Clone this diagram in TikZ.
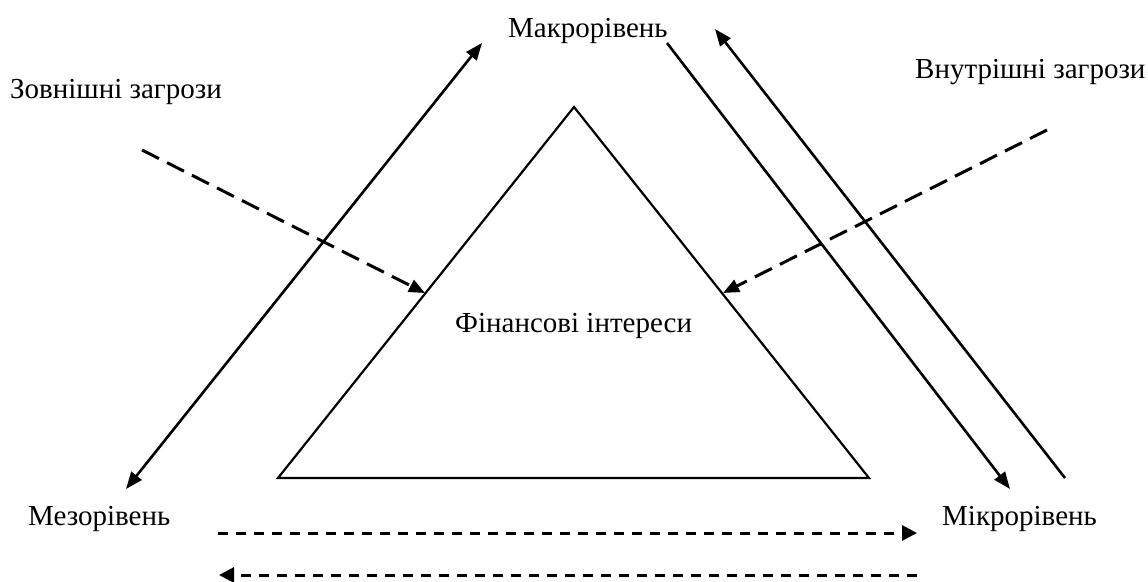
\documentclass[tikz,border=0pt]{standalone}
\usepackage{fontspec}
\setmainfont{Liberation Serif}
\usetikzlibrary{arrows.meta}
\tikzset{
  lbl/.style={anchor=base west, inner sep=0pt, font=\fontsize{29}{33}\selectfont},
  solidarrow/.style={line width=2.6pt, -{Triangle[length=17pt,width=13pt]}},
  threat/.style={line width=3pt, dash pattern=on 19pt off 9pt, -{Triangle[length=16pt,width=13pt]}},
  flow/.style={line width=3pt, dash pattern=on 10pt off 8pt, -{Triangle[length=15pt,width=15pt]}},
  tri/.style={line width=2.2pt, line join=miter}
}
\begin{document}
\begin{tikzpicture}[x=1pt,y=-1pt]
\useasboundingbox (0,0) rectangle (1148,581);
% texts
\node[lbl] (macro) at (508,37) {Макрорівень};
\node[lbl] (ext) at (10,98) {Зовнішні загрози};
\node[lbl] (int) at (915,78) {Внутрішні загрози};
\node[lbl] (fin) at (455,332) {Фінансові інтереси};
\node[lbl] (meso) at (28,525) {Мезорівень};
\node[lbl] (micro) at (942,525) {Мікрорівень};
% triangle
\coordinate (tA) at (574,107);
\coordinate (tL) at (278,478);
\coordinate (tR) at (869,478);
\draw[tri] (tA) -- (tL) -- (tR) -- cycle;
% long arrows
\coordinate (a1s) at (126,489);
\coordinate (a1e) at (482,43);
\draw[solidarrow, {Triangle[length=17pt,width=13pt]}-{Triangle[length=17pt,width=13pt]}] (a1s) -- (a1e);
\coordinate (a2s) at (667,43);
\coordinate (a2e) at (1010,489);
\draw[solidarrow] (a2s) -- (a2e);
\coordinate (a3s) at (1065,478);
\coordinate (a3e) at (715,29);
\draw[solidarrow] (a3s) -- (a3e);
% threats
\coordinate (t1s) at (142,150);
\coordinate (t1e) at (425,293);
\draw[threat] (t1s) -- (t1e);
\coordinate (t2s) at (1047,130);
\coordinate (t2e) at (723,293);
\draw[threat] (t2s) -- (t2e);
% bottom flows
\coordinate (f1s) at (218,533);
\coordinate (f1e) at (917,533);
\draw[flow] (f1s) -- (f1e);
\coordinate (f2s) at (917,575);
\coordinate (f2e) at (219,575);
\draw[flow] (f2s) -- (f2e);
\end{tikzpicture}
\end{document}
